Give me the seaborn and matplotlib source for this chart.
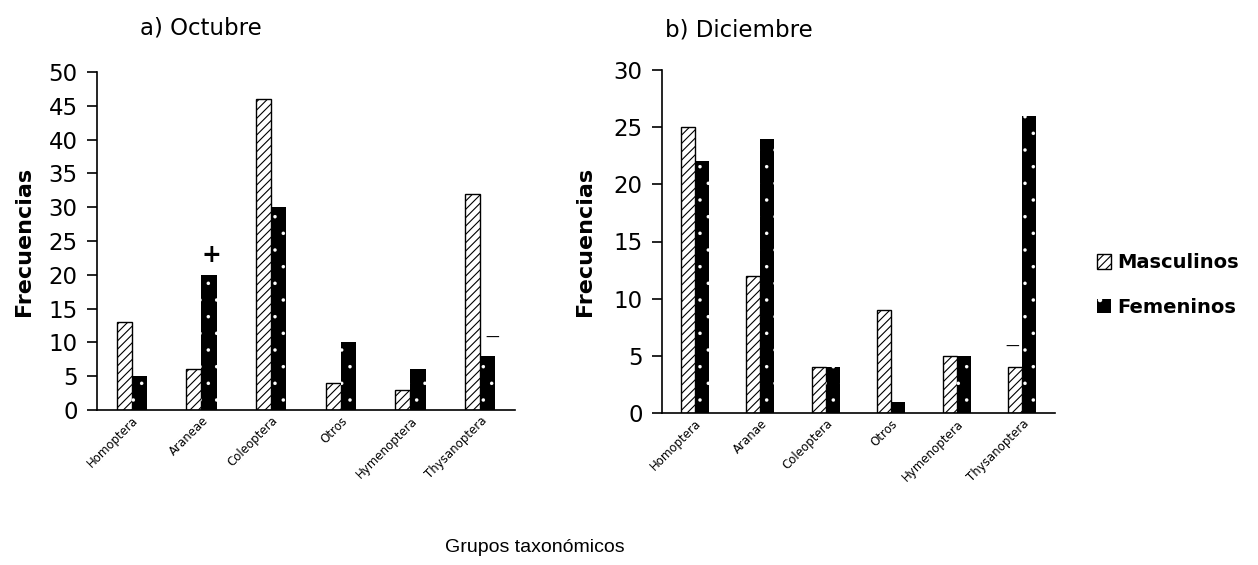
import matplotlib
matplotlib.use("Agg")
import matplotlib.pyplot as plt
import seaborn as sns
import pandas as pd
from matplotlib.patches import Patch

sns.set_style("white")
plt.rcParams['font.family'] = ['DejaVu Sans']
plt.rcParams['hatch.linewidth'] = 0.8
for k in ["text.color", "axes.labelcolor", "xtick.color", "ytick.color", "axes.edgecolor"]:
    plt.rcParams[k] = "black"

grupos_oct = ["Homoptera", "Araneae", "Coleoptera", "Otros", "Hymenoptera", "Thysanoptera"]
masc_oct = [13, 6, 46, 4, 3, 32]
fem_oct = [5, 20, 30, 10, 6, 8]

grupos_dic = ["Homoptera", "Aranae", "Coleoptera", "Otros", "Hymenoptera", "Thysanoptera"]
masc_dic = [25, 12, 4, 9, 5, 4]
fem_dic = [22, 24, 4, 1, 5, 26]

sexos = ["Masculinos", "Femeninos"]


def long_df(grupos, masc, fem):
    return pd.DataFrame({
        "grupo": grupos * 2,
        "freq": masc + fem,
        "sexo": [sexos[0]] * len(grupos) + [sexos[1]] * len(grupos),
    })


W, H = 1258, 565
fig = plt.figure(figsize=(W / 100, H / 100), dpi=100)
ax1 = fig.add_axes([97 / W, 1 - 410 / H, (515 - 97) / W, (410 - 72) / H])
ax2 = fig.add_axes([662 / W, 1 - 413 / H, (1055 - 662) / W, (413 - 70) / H])


def style_patch(p, sx):
    if sx == "Masculinos":
        p.set_facecolor("white")
        p.set_edgecolor("black")
        p.set_hatch("////")
        p.set_linewidth(1.0)
        if hasattr(p, "set_hatch_linewidth"):
            p.set_hatch_linewidth(0.8)
    else:
        p.set_facecolor("black")
        p.set_edgecolor("white")
        p.set_hatch(".")
        p.set_linewidth(0)
        if hasattr(p, "set_hatch_linewidth"):
            p.set_hatch_linewidth(0.1)


def draw(ax, grupos, masc, fem, ymax, step, width, labelpad):
    df = long_df(grupos, masc, fem)
    sns.barplot(data=df, x="grupo", y="freq", hue="sexo", order=grupos,
                hue_order=sexos, palette=["white", "black"], width=width,
                ax=ax, legend=False, errorbar=None, saturation=1)
    for cont, sx in zip(ax.containers, sexos):
        for p in cont:
            style_patch(p, sx)
    ax.set_ylim(0, ymax)
    ax.set_xlim(-0.5, len(grupos) - 0.5)
    ax.set_yticks(range(0, ymax + 1, step))
    ax.tick_params(axis="y", labelsize=16.5, length=7, width=1.2, direction="out", left=True, pad=7)
    ax.tick_params(axis="x", length=0, labelsize=8.5, pad=3)
    for lab in ax.get_xticklabels():
        lab.set_rotation(45)
        lab.set_ha("right")
        lab.set_rotation_mode("anchor")
    ax.set_xlabel("")
    ax.set_ylabel("Frecuencias", fontsize=16, fontweight="bold", labelpad=labelpad)
    sns.despine(ax=ax)
    for s in ["left", "bottom"]:
        ax.spines[s].set_linewidth(1.2)
        ax.spines[s].set_color("black")


draw(ax1, grupos_oct, masc_oct, fem_oct, 50, 5, 0.44, 10)
draw(ax2, grupos_dic, masc_dic, fem_dic, 30, 5, 0.43, 13)

# significance marks
ax1.text(1.14, 22.9, "+", ha="center", va="center", fontsize=17, fontweight="bold")
ax1.text(5.17, 10.65, "\u2014", ha="center", va="center", fontsize=10)
ax2.text(4.84, 5.77, "\u2014", ha="center", va="center", fontsize=10)

fig.text(201 / W, 1 - 28 / H, "a) Octubre", ha="center", va="center", fontsize=16.5)
fig.text(739 / W, 1 - 30 / H, "b) Diciembre", ha="center", va="center", fontsize=16.5)
fig.text(535 / W, 1 - 548 / H, "Grupos taxonómicos", ha="center", va="center", fontsize=14,
         family="Liberation Sans")

handles = [
    Patch(facecolor="white", edgecolor="black", hatch="////", label="Masculinos"),
    Patch(facecolor="black", edgecolor="white", hatch=".", linewidth=0, label="Femeninos"),
]
leg = fig.legend(handles=handles, loc="center left", bbox_to_anchor=(1079 / W, 1 - 285 / H),
                 frameon=False, prop={"family": "DejaVu Sans", "weight": "bold", "size": 14},
                 handlelength=0.75, handleheight=0.75, handletextpad=0.3, labelspacing=1.3)

fig.savefig("out.png", dpi=100)
